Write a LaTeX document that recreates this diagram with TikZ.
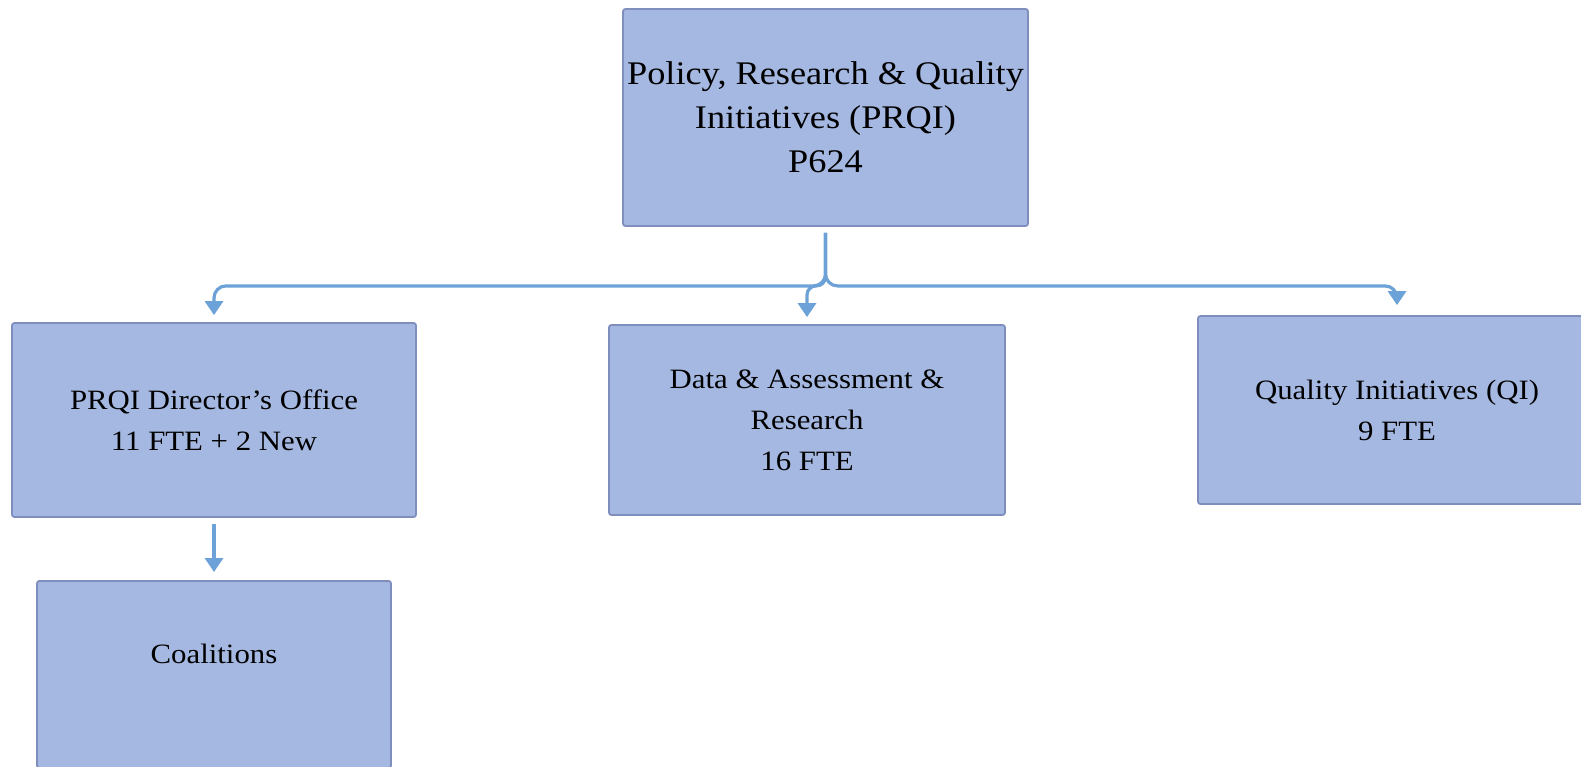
\documentclass[tikz,border=0pt]{standalone}
\usepackage{fontspec}
\setmainfont[FakeStretch=1.1]{Liberation Serif}
\usetikzlibrary{arrows.meta}
\definecolor{boxfill}{RGB}{165,184,225}
\definecolor{boxline}{RGB}{128,142,190}
\definecolor{conncol}{RGB}{108,162,215}
\tikzset{
  orgbox/.style={draw=boxline, line width=1.8pt, fill=boxfill, rounded corners=2.5pt,
    align=center, inner sep=0pt, font=\fontsize{28}{41}\selectfont},
  conn/.style={draw=conncol, line width=3.2pt, rounded corners=12pt,
    -{Triangle[width=18pt,length=14pt]}},
}
\begin{document}
\begin{tikzpicture}[x=1pt,y=-1pt]
\useasboundingbox (0,0) rectangle (1581,766);
\clip (0,0) rectangle (1581,766);
\node[orgbox, minimum width=405, minimum height=217, font=\fontsize{33}{44}\selectfont]
  (top) at (825.5,117.5) {Policy, Research \& Quality\\Initiatives (PRQI)\\P624};
\node[orgbox, minimum width=404, minimum height=194] (left) at (214,420)
  {PRQI Director’s Office\\11 FTE + 2 New};
\node[orgbox, minimum width=396, minimum height=190] (mid) at (807,420)
  {Data \& Assessment \&\\Research\\16 FTE};
\node[orgbox, minimum width=398, minimum height=188] (right) at (1397,410)
  {Quality Initiatives (QI)\\9 FTE};
\node[orgbox, anchor=north, minimum width=354, inner ysep=63pt, text height=20pt, text depth=41pt]
  (coal) at (214,580) {Coalitions};
\coordinate (hub) at ([yshift=-59pt]top.south);
\draw[conn, shorten <=6pt, shorten >=7pt] (top.south) -- (hub) -| (left.north);
\draw[conn, rounded corners=9pt, shorten <=6pt, shorten >=7pt] (top.south) -- (hub) -| (mid.north);
\draw[conn, shorten <=6pt, shorten >=10pt] (top.south) -- (hub) -| (right.north);
\draw[conn, shorten <=6pt, shorten >=8pt] (left.south) -- (coal.north);
\end{tikzpicture}
\end{document}
